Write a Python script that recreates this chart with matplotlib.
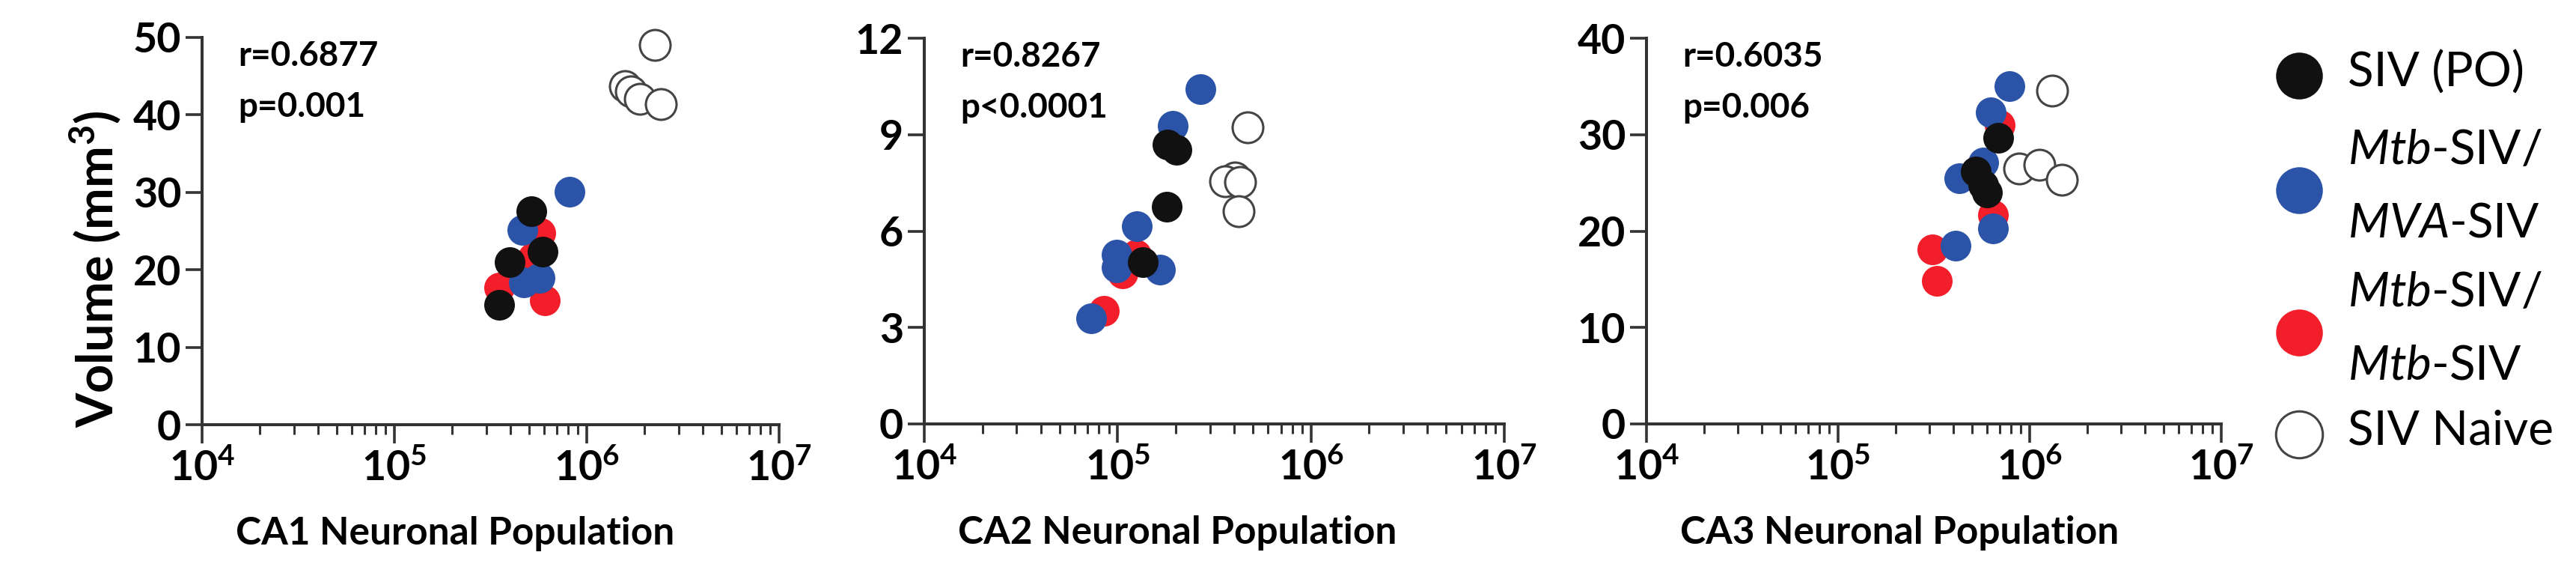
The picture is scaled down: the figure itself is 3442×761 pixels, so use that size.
import matplotlib
matplotlib.use('Agg')
import matplotlib.pyplot as plt
from matplotlib.lines import Line2D
from matplotlib.ticker import FixedLocator, NullFormatter

plt.rcParams['font.family'] = ['Lato', 'DejaVu Sans']
plt.rcParams['font.weight'] = 'normal'
plt.rcParams['mathtext.fontset'] = 'custom'
plt.rcParams['mathtext.rm'] = 'Lato:weight=bold'
plt.rcParams['mathtext.it'] = 'Lato:style=italic:weight=normal'
plt.rcParams['mathtext.bf'] = 'Lato:weight=bold'

# ---------------- data ----------------
groups = ['SIV (PO)', 'Mtb-SIV/MVA-SIV', 'Mtb-SIV/Mtb-SIV', 'SIV Naive']

ca1_po_x = [5.15e5, 3.99e5, 5.9e5, 3.49e5]
ca1_po_y = [27.6, 21.0, 22.3, 15.5]
ca1_mva_x = [8.15e5, 4.64e5, 5.7e5, 4.7e5]
ca1_mva_y = [30.1, 25.15, 19.0, 18.4]
ca1_mtb_x = [5.72e5, 5.23e5, 6.07e5, 3.49e5]
ca1_mtb_y = [24.8, 21.6, 16.1, 17.7]
ca1_naive_x = [2.26e6, 1.58e6, 1.70e6, 1.89e6, 2.43e6]
ca1_naive_y = [49.0, 43.7, 43.0, 42.1, 41.4]

ca2_po_x = [1.81e5, 2.01e5, 1.80e5, 1.35e5]
ca2_po_y = [8.68, 8.53, 6.76, 5.03]
ca2_mva_x = [2.69e5, 1.92e5, 1.26e5, 9.87e4, 9.87e4, 1.66e5, 7.31e4]
ca2_mva_y = [10.41, 9.27, 6.16, 5.27, 4.88, 4.80, 3.29]
ca2_mtb_x = [1.25e5, 1.06e5, 8.49e4]
ca2_mtb_y = [5.27, 4.68, 3.52]
ca2_naive_x = [4.69e5, 4.05e5, 3.59e5, 4.29e5, 4.23e5]
ca2_naive_y = [9.23, 7.67, 7.56, 7.52, 6.62]

ca3_po_x = [6.85e5, 5.24e5, 5.73e5, 5.99e5]
ca3_po_y = [29.7, 26.2, 24.8, 24.0]
ca3_mva_x = [7.85e5, 6.27e5, 5.73e5, 4.31e5, 6.45e5, 4.11e5]
ca3_mva_y = [35.0, 32.3, 27.1, 25.45, 20.3, 18.46]
ca3_mtb_x = [6.96e5, 6.45e5, 3.10e5, 3.29e5]
ca3_mtb_y = [31.0, 21.7, 18.07, 14.83]
ca3_naive_x = [1.31e6, 8.85e5, 1.12e6, 1.47e6]
ca3_naive_y = [34.6, 26.5, 26.9, 25.3]

x_labels = ['CA1 Neuronal Population', 'CA2 Neuronal Population', 'CA3 Neuronal Population']
y_label = 'Volume (mm$^{3}$)'
y_ticks = [[0, 10, 20, 30, 40, 50], [0, 3, 6, 9, 12], [0, 10, 20, 30, 40]]
x_ticks = [1e4, 1e5, 1e6, 1e7]
x_tick_labels = [r'$\mathregular{10^{4}}$', r'$\mathregular{10^{5}}$',
                 r'$\mathregular{10^{6}}$', r'$\mathregular{10^{7}}$']
r_texts = ['r=0.6877', 'r=0.8267', 'r=0.6035']
p_texts = ['p=0.001', 'p<0.0001', 'p=0.006']

leg_labels = ['SIV (PO)',
              r'$\mathit{Mtb}$-SIV/' + '\n' + r'$\mathit{MVA}$-SIV',
              r'$\mathit{Mtb}$-SIV/' + '\n' + r'$\mathit{Mtb}$-SIV',
              'SIV Naive']

panels = [
    (ca1_po_x, ca1_po_y, ca1_mva_x, ca1_mva_y, ca1_mtb_x, ca1_mtb_y, ca1_naive_x, ca1_naive_y),
    (ca2_po_x, ca2_po_y, ca2_mva_x, ca2_mva_y, ca2_mtb_x, ca2_mtb_y, ca2_naive_x, ca2_naive_y),
    (ca3_po_x, ca3_po_y, ca3_mva_x, ca3_mva_y, ca3_mtb_x, ca3_mtb_y, ca3_naive_x, ca3_naive_y),
]

# ---------------- style ----------------
C_BLACK = '#111111'
C_BLUE = '#2B53A7'
C_RED = '#F21E2A'
C_EDGE = '#444444'
AX_COL = '#333333'
MS = 29.5  # marker size in points

W, H = 3442, 761
fig = plt.figure(figsize=(W / 100, H / 100), dpi=100)


def frac(x0, x1, ytop, ybot):
    return [x0 / W, 1 - ybot / H, (x1 - x0) / W, (ybot - ytop) / H]


rects = [frac(270, 1041, 50, 567), frac(1235, 2010, 51, 566), frac(2200, 2968, 51, 566)]
axes = []

for i, (rect, data) in enumerate(zip(rects, panels)):
    ax = fig.add_axes(rect)
    axes.append(ax)
    po_x, po_y, mva_x, mva_y, mtb_x, mtb_y, nv_x, nv_y = data
    ax.set_xscale('log')
    ax.plot(nv_x, nv_y, ls='none', marker='o', ms=MS, mfc='white', mec=C_EDGE, mew=2.2, clip_on=False)
    ax.plot(mtb_x, mtb_y, ls='none', marker='o', ms=MS, mfc=C_RED, mec='none', clip_on=False)
    ax.plot(mva_x, mva_y, ls='none', marker='o', ms=MS, mfc=C_BLUE, mec='none', clip_on=False)
    ax.plot(po_x, po_y, ls='none', marker='o', ms=MS, mfc=C_BLACK, mec='none', clip_on=False)

    ax.set_xlim(1e4, 1e7)
    ax.set_ylim(0, y_ticks[i][-1])
    ax.xaxis.set_major_locator(FixedLocator(x_ticks))
    ax.set_xticklabels(x_tick_labels)
    minors = [m * 10 ** e for e in range(4, 7) for m in range(2, 10)]
    ax.xaxis.set_minor_locator(FixedLocator(minors))
    ax.xaxis.set_minor_formatter(NullFormatter())
    ax.set_yticks(y_ticks[i])
    ax.set_yticklabels([str(v) for v in y_ticks[i]])

    for s in ['top', 'right']:
        ax.spines[s].set_visible(False)
    for s in ['left', 'bottom']:
        ax.spines[s].set_linewidth(2.9)
        ax.spines[s].set_color(AX_COL)

    ax.tick_params(axis='x', which='major', length=18, width=2.6, color=AX_COL,
                   pad=5, labelsize=40)
    ax.tick_params(axis='x', which='minor', length=9.5, width=2.2, color=AX_COL)
    ax.tick_params(axis='y', which='major', length=16, width=2.6, color=AX_COL,
                   pad=4, labelsize=40)

    ax.set_xlabel(x_labels[i], fontsize=37, ha='left', va='baseline', fontweight='bold')
    ax.xaxis.set_label_coords(45 / 771, -160 / 516)

    if i == 0:
        ax.set_ylabel(y_label, fontsize=48, va='center', fontweight='bold')
        ax.yaxis.set_label_coords(-0.185, 0.403)

    ax.annotate(r_texts[i], xy=(0, 1), xycoords='axes fraction', xytext=(35, -27.5),
                textcoords='offset points', fontsize=33, ha='left', va='baseline',
                fontweight='bold')
    ax.annotate(p_texts[i], xy=(0, 1), xycoords='axes fraction', xytext=(35, -76),
                textcoords='offset points', fontsize=33, ha='left', va='baseline',
                fontweight='bold')

# ---------------- legend (placed entry by entry) ----------------
leg_styles = [dict(mfc=C_BLACK, mec='none'), dict(mfc=C_BLUE, mec='none'),
              dict(mfc=C_RED, mec='none'), dict(mfc='white', mec=C_EDGE, mew=2.2)]
leg_rows_px = [101, 254, 444, 580]     # vertical centre of each legend row (pixels from top)
mark_x_px, text_x_px = 3072, 3137
for lab, sty, ypx in zip(leg_labels, leg_styles, leg_rows_px):
    yf = 1 - ypx / H
    fig.add_artist(Line2D([mark_x_px / W], [yf], transform=fig.transFigure,
                          ls='none', marker='o', ms=45, **sty))
    fig.text(text_x_px / W, 1 - (ypx - 4) / H, lab, fontsize=46, fontweight='normal',
             ha='left', va='center', linespacing=1.84)

# make sure every tick label is drawn bold (ticks exist after a first draw)
fig.canvas.draw()
for ax in axes:
    for lbl in ax.get_xticklabels() + ax.get_yticklabels():
        lbl.set_fontweight('bold')

fig.savefig('out.png', dpi=100, facecolor='white')
